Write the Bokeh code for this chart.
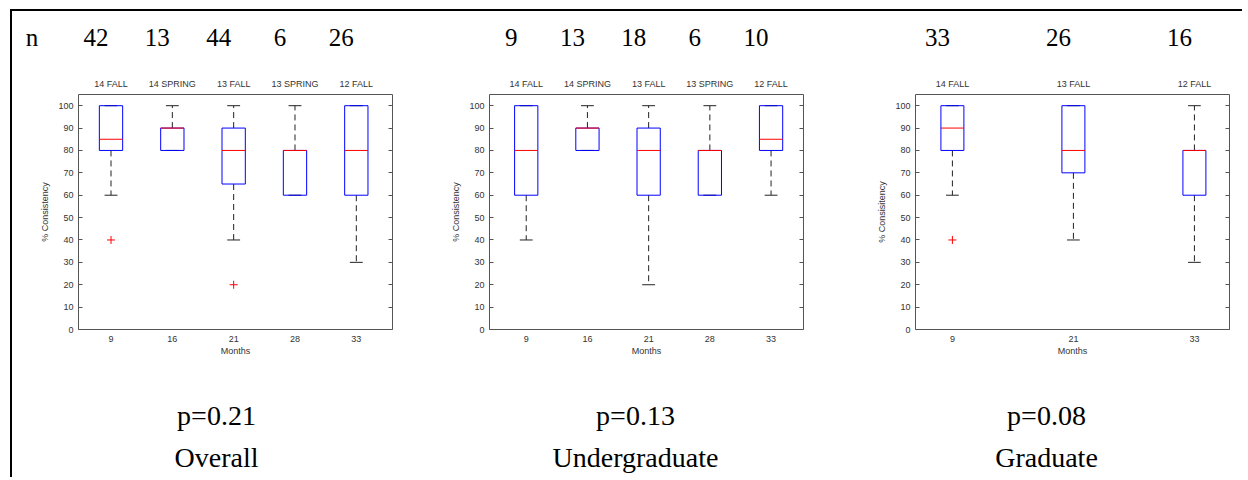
from bokeh.plotting import figure
from bokeh.models import Range1d, LinearAxis, FixedTicker, Label
from bokeh.layouts import row, column
from bokeh.embed import file_html
from bokeh.resources import INLINE

# ---------------- data ----------------
y_ticks = [0, 10, 20, 30, 40, 50, 60, 70, 80, 90, 100]

overall_pos = [1, 2, 3, 4, 5]
overall_months = ["9", "16", "21", "28", "33"]
overall_terms = ["14 FALL", "14 SPRING", "13 FALL", "13 SPRING", "12 FALL"]
overall_n = [42, 13, 44, 6, 26]
overall_low = [60, 80, 40, 60, 30]
overall_q1 = [80, 80, 65, 60, 60]
overall_med = [85, 90, 80, 80, 80]
overall_q3 = [100, 90, 90, 80, 100]
overall_high = [100, 100, 100, 100, 100]
overall_out_x = [1, 3]
overall_out_y = [40, 20]
overall_p = "p=0.21"
overall_name = "Overall"

ug_pos = [1, 2, 3, 4, 5]
ug_months = ["9", "16", "21", "28", "33"]
ug_terms = ["14 FALL", "14 SPRING", "13 FALL", "13 SPRING", "12 FALL"]
ug_n = [9, 13, 18, 6, 10]
ug_low = [40, 80, 20, 60, 60]
ug_q1 = [60, 80, 60, 60, 80]
ug_med = [80, 90, 80, 80, 85]
ug_q3 = [100, 90, 90, 80, 100]
ug_high = [100, 100, 100, 100, 100]
ug_out_x = []
ug_out_y = []
ug_p = "p=0.13"
ug_name = "Undergraduate"

gr_pos = [1, 3, 5]
gr_months = ["9", "21", "33"]
gr_terms = ["14 FALL", "13 FALL", "12 FALL"]
gr_n = [33, 26, 16]
gr_low = [60, 40, 30]
gr_q1 = [80, 70, 60]
gr_med = [90, 80, 80]
gr_q3 = [100, 100, 80]
gr_high = [100, 100, 100]
gr_out_x = [1]
gr_out_y = [40]
gr_p = "p=0.08"
gr_name = "Graduate"

n_tag = "n"

SANS = "Liberation Sans"
SERIF = "Liberation Serif"
TXT = "#333333"
FRAME = "#555555"

FRAME_W = 314
FRAME_H = 235
TOP_H = 49      # height of the "n" strip
BOX_H = 300     # height of the box-plot figure
BOT_H = 117     # height of the p-value / group strip
BOX_TOP = 34
NTAG_W = 50


def blank(width, height, xr):
    f = figure(width=width, height=height, output_backend="svg",
               toolbar_location=None, x_range=Range1d(*xr),
               y_range=Range1d(0, 1),
               x_axis_location=None, y_axis_location=None,
               min_border_left=0, min_border_right=0,
               min_border_top=0, min_border_bottom=0)
    f.grid.visible = False
    f.outline_line_color = None
    f.background_fill_color = "white"
    f.border_fill_color = "white"
    return f


def aligned_range(xr, left_px, right_px):
    ppu = FRAME_W / (xr[1] - xr[0])
    return (xr[0] - left_px / ppu, xr[1] + right_px / ppu)


def box_fig(width, left_border, xr, pos, months, terms, low, q1, med, q3, high,
            out_x, out_y, ylabel):
    right_border = width - left_border - FRAME_W
    p = figure(width=width, height=BOX_H, output_backend="svg",
               toolbar_location=None,
               x_range=Range1d(*xr), y_range=Range1d(0, 105),
               min_border_left=left_border, min_border_top=BOX_TOP,
               min_border_right=right_border,
               min_border_bottom=BOX_H - BOX_TOP - FRAME_H)
    p.grid.visible = False
    p.outline_line_color = FRAME
    p.outline_line_width = 1
    p.background_fill_color = "white"
    p.border_fill_color = "white"

    xa = p.xaxis[0]
    xa.ticker = FixedTicker(ticks=pos)
    xa.major_label_overrides = {x: m for x, m in zip(pos, months)}
    xa.axis_line_color = None
    xa.major_tick_line_color = None
    xa.minor_tick_line_color = None
    xa.major_label_standoff = 0
    xa.major_label_text_font = SANS
    xa.major_label_text_font_size = "9px"
    xa.major_label_text_color = TXT
    xa.axis_label = "Months"
    xa.axis_label_text_font = SANS
    xa.axis_label_text_font_size = "9px"
    xa.axis_label_text_font_style = "normal"
    xa.axis_label_text_color = TXT
    xa.axis_label_standoff = 1

    ya = p.yaxis[0]
    ya.ticker = FixedTicker(ticks=y_ticks)
    ya.axis_line_color = None
    ya.major_tick_in = 4
    ya.major_tick_out = 0
    ya.major_tick_line_color = FRAME
    ya.minor_tick_line_color = None
    ya.major_label_standoff = 5
    ya.major_label_text_font = SANS
    ya.major_label_text_font_size = "9px"
    ya.major_label_text_color = TXT
    ya.axis_label = ylabel
    ya.axis_label_text_font = SANS
    ya.axis_label_text_font_size = "9px"
    ya.axis_label_text_font_style = "normal"
    ya.axis_label_text_color = TXT
    ya.axis_label_standoff = 5

    ra = LinearAxis(ticker=FixedTicker(ticks=y_ticks), axis_line_color=None,
                    major_tick_in=4, major_tick_out=0,
                    major_tick_line_color=FRAME, minor_tick_line_color=None,
                    major_label_overrides={t: "" for t in y_ticks},
                    major_label_standoff=0)
    p.add_layout(ra, "right")

    ta = LinearAxis(ticker=FixedTicker(ticks=pos),
                    major_label_overrides={x: t for x, t in zip(pos, terms)},
                    axis_line_color=None, major_tick_line_color=None,
                    minor_tick_line_color=None, major_label_standoff=0,
                    major_label_text_font=SANS, major_label_text_font_size="9px",
                    major_label_text_color=TXT)
    p.add_layout(ta, "above")

    bw = 0.38
    cw = 0.21
    wc = "#222222"
    p.segment(x0=pos, y0=q3, x1=pos, y1=high, line_color=wc,
              line_width=1, line_dash="6 4")
    p.segment(x0=pos, y0=q1, x1=pos, y1=low, line_color=wc,
              line_width=1, line_dash="6 4")
    p.segment(x0=[x - cw / 2 for x in pos], y0=high,
              x1=[x + cw / 2 for x in pos], y1=high,
              line_color=wc, line_width=1)
    p.segment(x0=[x - cw / 2 for x in pos], y0=low,
              x1=[x + cw / 2 for x in pos], y1=low,
              line_color=wc, line_width=1)
    p.vbar(x=pos, width=bw, top=q3, bottom=q1, fill_color=None,
           line_color="#0000FF", line_width=1)
    p.segment(x0=[x - bw / 2 for x in pos], y0=med,
              x1=[x + bw / 2 for x in pos], y1=med,
              line_color="#FF0000", line_width=1)
    if out_x:
        p.scatter(x=out_x, y=out_y, marker="cross", size=8,
                  line_color="#FF0000", line_width=1)
    return p


def n_strip(width, left_px, right_px, xr, pos, ns):
    f = blank(width, TOP_H, aligned_range(xr, left_px, right_px))
    for x, n in zip(pos, ns):
        f.add_layout(Label(x=x, y=23, x_units="data", y_units="screen",
                           text=str(n), x_offset=-15, text_align="center",
                           text_baseline="alphabetic", text_font=SERIF,
                           text_font_size="25px", text_color="black"))
    return f


def bottom_strip(width, ptxt, name):
    f = blank(width, BOT_H, (0, 1))
    cx = width / 2
    f.add_layout(Label(x=cx, y=62, x_units="screen", y_units="screen",
                       text=ptxt, text_align="center", text_baseline="alphabetic",
                       text_font=SERIF, text_font_size="28px", text_color="black"))
    f.add_layout(Label(x=cx, y=20, x_units="screen", y_units="screen",
                       text=name, text_align="center", text_baseline="alphabetic",
                       text_font=SERIF, text_font_size="28px", text_color="black"))
    return f


# column geometry (widths, left border of the frame inside each column, x range)
W1, L1, XR1 = 408, 66, (0.47, 5.59)
W2, L2, XR2 = 430, 69, (0.40, 5.53)
W3, L3, XR3 = 392, 65, (0.39, 5.58)

b1 = box_fig(W1, L1, XR1, overall_pos, overall_months, overall_terms,
             overall_low, overall_q1, overall_med, overall_q3, overall_high,
             overall_out_x, overall_out_y, "% Consistency")
b2 = box_fig(W2, L2, XR2, ug_pos, ug_months, ug_terms, ug_low, ug_q1, ug_med,
             ug_q3, ug_high, ug_out_x, ug_out_y, "% Consistency")
b3 = box_fig(W3, L3, XR3, gr_pos, gr_months, gr_terms, gr_low, gr_q1, gr_med,
             gr_q3, gr_high, gr_out_x, gr_out_y, "% Consisitency")

ntag = blank(NTAG_W, TOP_H, (0, 1))
ntag.add_layout(Label(x=19.5, y=23, x_units="screen", y_units="screen",
                      text=n_tag, text_align="center", text_baseline="alphabetic",
                      text_font=SERIF, text_font_size="25px", text_color="black"))

t1 = n_strip(W1 - NTAG_W, L1 - NTAG_W, W1 - L1 - FRAME_W, XR1,
             overall_pos, overall_n)
t2 = n_strip(W2, L2, W2 - L2 - FRAME_W, XR2, ug_pos, ug_n)
t3 = n_strip(W3, L3, W3 - L3 - FRAME_W, XR3, gr_pos, gr_n)

f1 = bottom_strip(W1, overall_p, overall_name)
f2 = bottom_strip(W2, ug_p, ug_name)
f3 = bottom_strip(W3, gr_p, gr_name)

layout = column(row(ntag, t1, t2, t3, spacing=0),
                row(b1, b2, b3, spacing=0),
                row(f1, f2, f3, spacing=0),
                spacing=0,
                styles={"border-top": "2px solid black",
                        "border-left": "2px solid black",
                        "margin-top": "9px", "margin-left": "10px",
                        "background-color": "white"})

open("out.html", "w").write(file_html(layout, INLINE))
